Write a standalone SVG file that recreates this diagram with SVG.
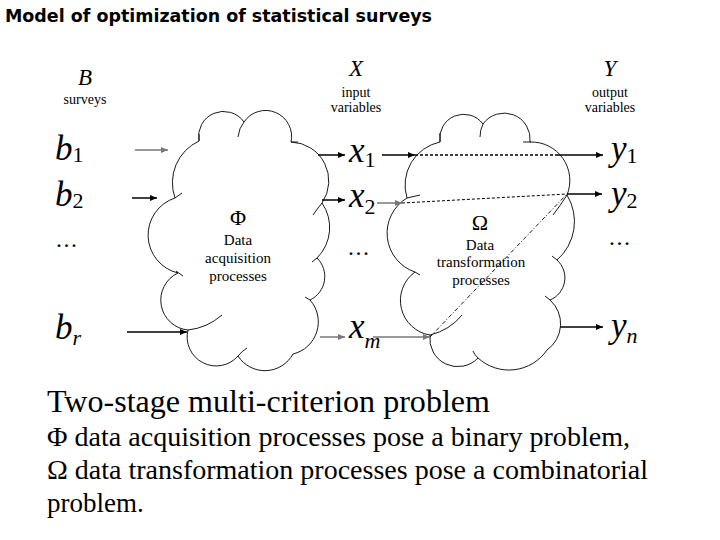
<svg xmlns="http://www.w3.org/2000/svg" width="720" height="540" viewBox="0 0 720 540">
<defs>
<marker id="ah" markerWidth="8" markerHeight="6" refX="7" refY="3" orient="auto" markerUnits="userSpaceOnUse"><path d="M0,0 L7,3 L0,6 Z" fill="#000"/></marker>
<marker id="ahg" markerWidth="8" markerHeight="6" refX="7" refY="3" orient="auto" markerUnits="userSpaceOnUse"><path d="M0,0 L7,3 L0,6 Z" fill="#777"/></marker>
<style>
.title{font-family:"Comic Sans MS","DejaVu Sans",sans-serif;font-weight:bold;font-size:18.5px;fill:#000}
.lbl{font-family:"Liberation Serif","Times New Roman",serif;fill:#000}
.var{font-style:italic;font-size:35px}
.sub{font-style:normal;font-size:22px}
.subi{font-style:italic;font-size:22px}
.cap{font-size:14px}
.dots{font-size:24px;letter-spacing:1.5px}
.ctext{font-size:15px;text-anchor:middle}
.greek{font-size:22px;text-anchor:middle}
.body{font-size:27px}
.cloud{fill:none;stroke:#000;stroke-width:0.9}
.tail{fill:none;stroke:#000;stroke-width:0.9}
.arr{stroke:#000;stroke-width:1.5;fill:none;marker-end:url(#ah)}
.arrg{stroke:#777;stroke-width:1.5;fill:none;marker-end:url(#ahg)}
.dash1{stroke:#000;stroke-width:1.5;fill:none;stroke-dasharray:3 2}
.dash2{stroke:#000;stroke-width:1;fill:none;stroke-dasharray:3 2}
.dashdot{stroke:#000;stroke-width:0.9;fill:none;stroke-dasharray:4 2 1 2}
</style>
</defs>
<rect width="720" height="540" fill="#fff"/>

<text class="title" x="5" y="22" textLength="427" lengthAdjust="spacingAndGlyphs">Model of optimization of statistical surveys</text>

<g id="header-B" class="lbl">
<text class="var" x="85" y="85" text-anchor="middle" style="font-size:23px">B</text>
<text class="cap" x="85" y="104" text-anchor="middle">surveys</text>
</g>
<g id="header-X" class="lbl">
<text class="var" x="356" y="76" text-anchor="middle" style="font-size:23px">X</text>
<text class="cap" x="356" y="97" text-anchor="middle">input</text>
<text class="cap" x="356" y="112" text-anchor="middle">variables</text>
</g>
<g id="header-Y" class="lbl">
<text class="var" x="610" y="76" text-anchor="middle" style="font-size:23px">Y</text>
<text class="cap" x="610" y="97" text-anchor="middle">output</text>
<text class="cap" x="610" y="112" text-anchor="middle">variables</text>
</g>

<g id="surveys" class="lbl">
<text class="var" x="55" y="160">b<tspan class="sub" dy="2">1</tspan></text>
<text class="var" x="55" y="206">b<tspan class="sub" dy="2">2</tspan></text>
<text class="dots" x="56" y="247">...</text>
<text class="var" x="55" y="339">b<tspan class="subi" dy="6">r</tspan></text>
</g>

<g id="inputs" class="lbl">
<text class="var" x="349" y="162">x<tspan class="sub" dy="5">1</tspan></text>
<text class="var" x="349" y="207">x<tspan class="sub" dy="7">2</tspan></text>
<text class="dots" x="348" y="255">...</text>
<text class="var" x="349" y="338">x<tspan class="subi" dy="10">m</tspan></text>
</g>

<g id="outputs" class="lbl">
<text class="var" x="611" y="160">y<tspan class="sub" dy="3">1</tspan></text>
<text class="var" x="611" y="205">y<tspan class="sub" dy="3">2</tspan></text>
<text class="dots" x="609" y="245">...</text>
<text class="var" x="611" y="337">y<tspan class="subi" dy="6">n</tspan></text>
</g>

<g id="cloud-phi">
<path class="cloud" d="M199,141 A25,25 0 0 1 244,122 A26,26 0 0 1 291,142 A39,39 0 0 1 322,203 A43,43 0 0 1 317,258 A26,26 0 0 1 310,300 A33,33 0 0 1 293,354 A32,32 0 0 1 238,356 A29,29 0 0 1 188,330 A30,30 0 0 1 178,273 A39,39 0 0 1 175,198 A46,46 0 0 1 199,141 Z"/>
<path class="tail" d="M244,122 Q239,128 238,137 M291,142 L298,142 M322,203 Q317,209 313,215 M317,258 L312,262 M310,300 L305,297 M238,356 Q242,351 247,348 M188,330 Q207,328 222,315 M176,271 L183,276 M175,198 L182,193 M199,141 L199,134"/>
<g class="lbl">
<text class="greek" x="238" y="225">Φ</text>
<text class="ctext" x="238" y="245">Data</text>
<text class="ctext" x="238" y="263">acquisition</text>
<text class="ctext" x="238" y="281">processes</text>
</g>
</g>

<g id="cloud-omega">
<path class="cloud" d="M440,142 A24,24 0 0 1 483,124 A26,26 0 0 1 530,142 A38.5,38.5 0 0 1 567,195 A51,51 0 0 1 557,260 A24,24 0 0 1 550,300 A32,32 0 0 1 547,350 A46,46 0 0 1 478,358 A28,28 0 0 1 430,335 A35,35 0 0 1 415,272 A41,41 0 0 1 407,198 A44,44 0 0 1 440,142 Z"/>
<path class="tail" d="M483,124 Q480,130 480,137 M523,142 L531,142 M567,195 Q560,206 553,215 M557,260 L552,256 M550,300 L545,296 M478,358 Q474,354 473,351 M430,335 Q450,330 462,315 M415,272 L420,275 M407,198 L420,195 M440,142 L440,133"/>
<g class="lbl">
<text class="greek" x="480" y="230">Ω</text>
<text class="ctext" x="480" y="250">Data</text>
<text class="ctext" x="481" y="267">transformation</text>
<text class="ctext" x="481" y="285">processes</text>
</g>
</g>

<g id="connectors">
<line class="arrg" x1="135" y1="150" x2="168" y2="150"/>
<line class="arr" x1="132" y1="198" x2="157" y2="198"/>
<line class="arr" x1="127" y1="332" x2="187" y2="332"/>
<line class="arr" x1="318" y1="155" x2="345" y2="155"/>
<line class="arr" x1="322" y1="200" x2="345" y2="200"/>
<line class="arrg" x1="320" y1="337" x2="345" y2="337"/>
<line class="arr" x1="382" y1="155" x2="415" y2="155"/>
<line class="arrg" x1="377" y1="203" x2="402" y2="203"/>
<line class="arrg" x1="373" y1="337" x2="430" y2="337"/>
<line class="dash1" x1="415" y1="155" x2="556" y2="155"/>
<line class="dash2" x1="402" y1="203" x2="567" y2="194"/>
<line class="dashdot" x1="430" y1="337" x2="567" y2="194"/>
<line class="arr" x1="556" y1="155" x2="603" y2="155"/>
<line class="arr" x1="567" y1="194" x2="602" y2="194"/>
<line class="arr" x1="560" y1="327" x2="603" y2="327"/>
</g>

<g id="caption" class="lbl">
<text x="47" y="412" style="font-size:31px" textLength="443" lengthAdjust="spacingAndGlyphs">Two-stage multi-criterion problem</text>
<text class="body" x="47" y="446" textLength="583" lengthAdjust="spacingAndGlyphs">Φ data acquisition processes pose a binary problem,</text>
<text class="body" x="47" y="479" textLength="601" lengthAdjust="spacingAndGlyphs">Ω data transformation processes pose a combinatorial</text>
<text class="body" x="47" y="512">problem.</text>
</g>
</svg>
